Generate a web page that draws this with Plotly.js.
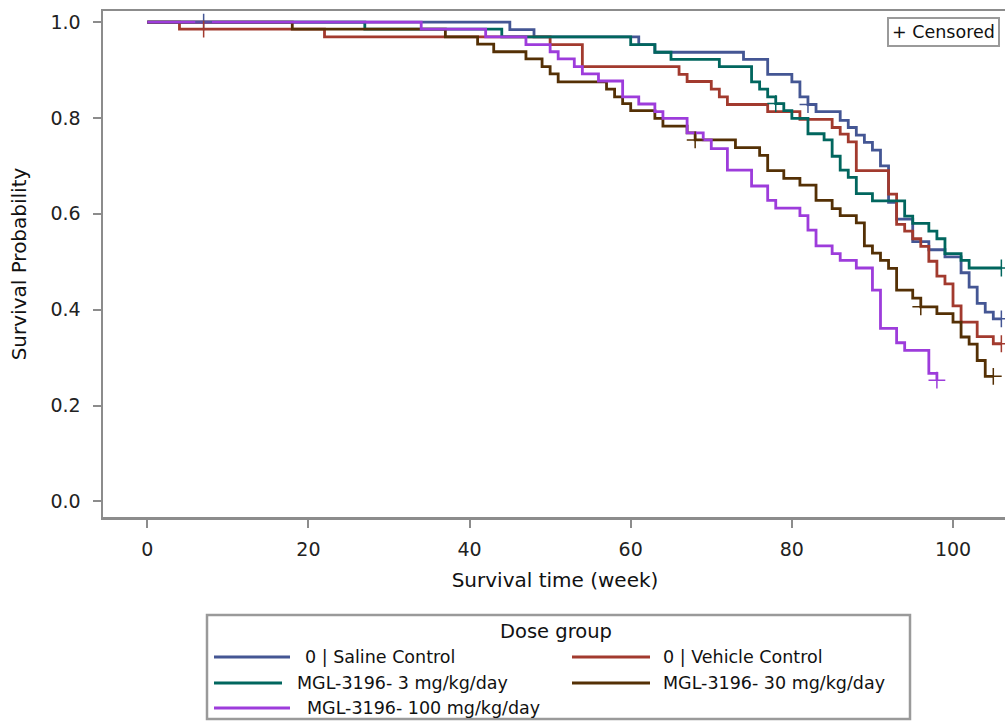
<!DOCTYPE html>
<html>
<head>
<meta charset="utf-8">
<script src="https://cdn.plot.ly/plotly-3.0.1.min.js"></script>
<style>
  html, body { margin: 0; padding: 0; overflow: hidden; background: #fff; }
  #chart { width: 1010px; height: 721px; }
</style>
</head>
<body>
<div id="chart"></div>
<script>
// Kaplan-Meier survival estimates by dose group (time in weeks)
const groupNames = [
  "0 | Saline Control",
  "0 | Vehicle Control",
  "MGL-3196- 3 mg/kg/day",
  "MGL-3196- 30 mg/kg/day",
  "MGL-3196- 100 mg/kg/day"
];
const groupColors = ["#445694", "#A23A2E", "#01665E", "#543005", "#9D3CDB"];

const salineWeeks = [0, 45, 48, 61, 63, 74, 77, 80, 81, 82, 83, 86, 87, 88, 89, 90, 91, 92, 93, 95, 97, 99, 101, 102, 103, 104, 105, 106];
const salineSurv  = [1.0, 0.984, 0.969, 0.953, 0.937, 0.922, 0.891, 0.875, 0.844, 0.828, 0.813, 0.795, 0.780, 0.764, 0.749, 0.733, 0.700, 0.624, 0.589, 0.542, 0.525, 0.510, 0.477, 0.447, 0.413, 0.395, 0.381, 0.381];
const salineCensWeeks = [7, 82, 106];
const salineCensSurv  = [1.0, 0.828, 0.381];

const vehicleWeeks = [0, 4, 22, 50, 54, 66, 67, 70, 71, 72, 77, 81, 85, 86, 87, 88, 92, 93, 94, 95, 96, 97, 98, 99, 100, 101, 103, 105, 106];
const vehicleSurv  = [1.0, 0.985, 0.969, 0.953, 0.907, 0.891, 0.876, 0.860, 0.844, 0.828, 0.813, 0.797, 0.780, 0.766, 0.750, 0.690, 0.641, 0.578, 0.564, 0.548, 0.532, 0.501, 0.470, 0.454, 0.408, 0.374, 0.344, 0.329, 0.329];
const vehicleCensWeeks = [7, 106];
const vehicleCensSurv  = [0.985, 0.329];

const low3Weeks = [0, 27, 44, 60, 63, 65, 71, 75, 76, 77, 78, 79, 80, 82, 84, 85, 86, 87, 88, 90, 94, 95, 97, 98, 99, 101, 102, 106];
const low3Surv  = [1.0, 0.985, 0.969, 0.953, 0.937, 0.922, 0.907, 0.875, 0.860, 0.844, 0.830, 0.815, 0.799, 0.767, 0.754, 0.720, 0.691, 0.676, 0.642, 0.627, 0.595, 0.580, 0.564, 0.548, 0.517, 0.503, 0.487, 0.487];
const low3CensWeeks = [78, 106];
const low3CensSurv  = [0.830, 0.487];

const mid30Weeks = [0, 18, 37, 41, 43, 47, 49, 50, 51, 57, 58, 59, 60, 63, 64, 67, 68, 73, 76, 77, 79, 81, 83, 85, 86, 88, 89, 90, 91, 92, 93, 95, 96, 98, 100, 101, 102, 103, 104, 105];
const mid30Surv  = [1.0, 0.985, 0.969, 0.954, 0.938, 0.923, 0.907, 0.892, 0.875, 0.860, 0.844, 0.830, 0.815, 0.799, 0.783, 0.769, 0.754, 0.738, 0.722, 0.690, 0.674, 0.660, 0.628, 0.611, 0.596, 0.581, 0.533, 0.518, 0.503, 0.486, 0.441, 0.424, 0.406, 0.392, 0.374, 0.343, 0.328, 0.294, 0.261, 0.261];
const mid30CensWeeks = [68, 96, 105];
const mid30CensSurv  = [0.754, 0.406, 0.261];

const high100Weeks = [0, 34, 42, 47, 50, 51, 53, 54, 56, 59, 61, 63, 64, 67, 69, 70, 72, 75, 77, 78, 81, 82, 83, 85, 86, 88, 90, 91, 93, 94, 97, 98];
const high100Surv  = [1.0, 0.985, 0.969, 0.953, 0.938, 0.923, 0.907, 0.892, 0.877, 0.844, 0.829, 0.813, 0.799, 0.769, 0.754, 0.736, 0.691, 0.658, 0.628, 0.612, 0.596, 0.566, 0.533, 0.517, 0.503, 0.487, 0.441, 0.361, 0.331, 0.315, 0.267, 0.253];
const high100CensWeeks = [98];
const high100CensSurv  = [0.253];

const xTicks = [0, 20, 40, 60, 80, 100];
const yTicks = [0.0, 0.2, 0.4, 0.6, 0.8, 1.0];
const yTickLabels = ["0.0", "0.2", "0.4", "0.6", "0.8", "1.0"];

const curves = [
  [salineWeeks, salineSurv, salineCensWeeks, salineCensSurv],
  [vehicleWeeks, vehicleSurv, vehicleCensWeeks, vehicleCensSurv],
  [low3Weeks, low3Surv, low3CensWeeks, low3CensSurv],
  [mid30Weeks, mid30Surv, mid30CensWeeks, mid30CensSurv],
  [high100Weeks, high100Surv, high100CensWeeks, high100CensSurv]
];

const FONT = "DejaVu Sans, Verdana, sans-serif";
const W = 1010, H = 721;
const M = { l: 103, r: 3, t: 11, b: 204 };
const plotW = W - M.l - M.r, plotH = H - M.t - M.b;
// pixel -> paper helpers for the hand-built legend
const px = v => (v - M.l) / plotW;
const py = v => (H - M.b - v) / plotH;

const traces = [];
curves.forEach((c, i) => {
  traces.push({
    type: "scatter", mode: "lines", x: c[0], y: c[1],
    line: { shape: "hv", color: groupColors[i], width: 2.8 },
    name: groupNames[i], showlegend: false, hoverinfo: "skip"
  });
});
curves.forEach((c, i) => {
  traces.push({
    type: "scatter", mode: "markers", x: c[2], y: c[3],
    marker: { symbol: "cross-thin", size: 12, line: { color: groupColors[i], width: 1.5 } },
    showlegend: false, hoverinfo: "skip"
  });
});

const shapes = [];
const annotations = [];

// legend frame
shapes.push({ type: "rect", xref: "paper", yref: "paper",
  x0: px(207), x1: px(910), y0: py(615), y1: py(719),
  line: { color: "#9a9a9a", width: 2.5 }, fillcolor: "rgba(0,0,0,0)" });
annotations.push({ xref: "paper", yref: "paper", x: px(556), y: py(631),
  xanchor: "center", yanchor: "middle", text: "Dose group", showarrow: false,
  font: { family: FONT, size: 19.5, color: "#111" } });

const legendSlots = [
  { lx0: 214, lx1: 290, tx: 303, y: 657 },
  { lx0: 572, lx1: 650, tx: 661, y: 657 },
  { lx0: 214, lx1: 282, tx: 295, y: 683 },
  { lx0: 572, lx1: 650, tx: 661, y: 683 },
  { lx0: 214, lx1: 290, tx: 305, y: 708 }
];
legendSlots.forEach((s, i) => {
  shapes.push({ type: "line", xref: "paper", yref: "paper",
    x0: px(s.lx0), x1: px(s.lx1), y0: py(s.y), y1: py(s.y),
    line: { color: groupColors[i], width: 2.8 } });
  annotations.push({ xref: "paper", yref: "paper", x: px(s.tx), y: py(s.y),
    xanchor: "left", yanchor: "middle", text: groupNames[i], showarrow: false,
    font: { family: FONT, size: 17.5, color: "#111" } });
});

// censored-symbol key
annotations.push({ xref: "paper", yref: "paper", x: px(1000), y: py(32.5),
  xanchor: "right", yanchor: "middle", text: "+ Censored", showarrow: false,
  bgcolor: "#fff", bordercolor: "#9a9a9a", borderwidth: 2, borderpad: 3,
  font: { family: FONT, size: 17.5, color: "#111" } });

const layout = {
  width: W, height: H,
  margin: M,
  paper_bgcolor: "#fff", plot_bgcolor: "#fff",
  font: { family: FONT, color: "#222" },
  showlegend: false,
  xaxis: {
    range: [-5.49, 106.7],
    tickvals: xTicks, ticktext: xTicks.map(String),
    ticks: "outside", ticklen: 8, tickwidth: 2, tickcolor: "#8c8c8c",
    showline: true, mirror: true, linecolor: "#8c8c8c", linewidth: 2.5,
    showgrid: false, zeroline: false,
    tickfont: { family: FONT, size: 19, color: "#222" },
    ticklabelstandoff: 6,
    title: { text: "Survival time (week)", font: { family: FONT, size: 20, color: "#111" }, standoff: 14 }
  },
  yaxis: {
    range: [-0.0324, 1.0230],
    tickvals: yTicks, ticktext: yTickLabels,
    ticks: "outside", ticklen: 8, tickwidth: 2, tickcolor: "#8c8c8c",
    showline: true, mirror: true, linecolor: "#8c8c8c", linewidth: 2.5,
    showgrid: false, zeroline: false,
    tickfont: { family: FONT, size: 19, color: "#222" },
    ticklabelstandoff: 8,
    title: { text: "Survival Probability", font: { family: FONT, size: 20, color: "#111" }, standoff: 19 }
  },
  shapes: shapes,
  annotations: annotations
};

Plotly.newPlot("chart", traces, layout, { staticPlot: true, displayModeBar: false });
</script>
</body>
</html>
